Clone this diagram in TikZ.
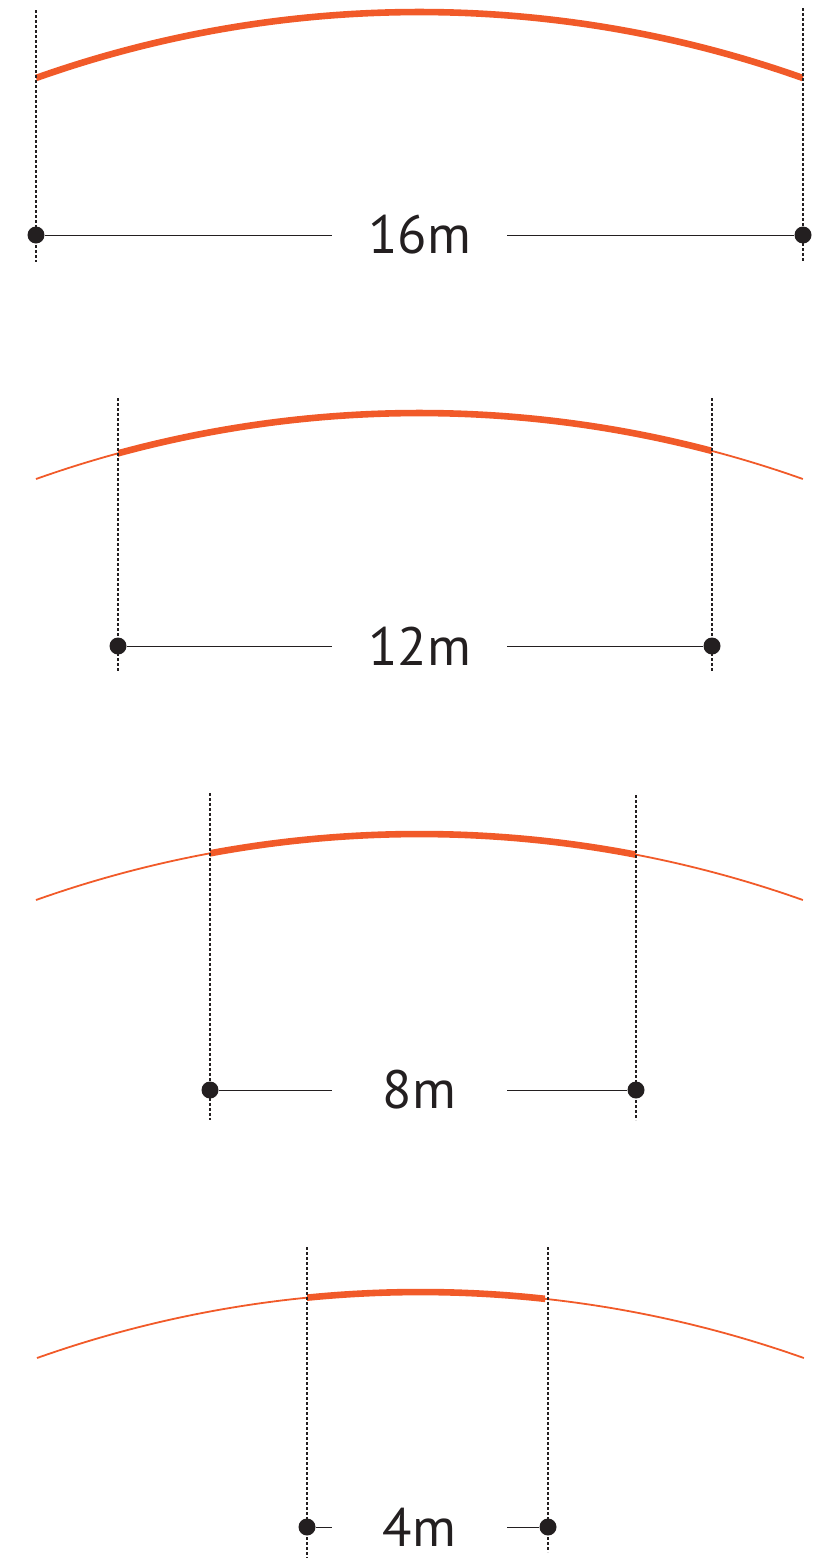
\documentclass[tikz,border=0pt]{standalone}
\usepackage{fontspec}
\setmainfont{PT Sans}
\usepackage{xcolor}
\usetikzlibrary{positioning}
\definecolor{roof}{HTML}{F15A29}
\definecolor{ink}{HTML}{231F20}

\begin{document}
\begin{tikzpicture}[
    x=0.5pt, y=0.5pt,
    beam/.style={draw=roof, line width=3.3pt},
    span/.style={draw=roof, line width=0.9pt},
    guide/.style={draw=ink, line width=0.75pt, dash pattern=on 1.6pt off 0.9pt},
    dimline/.style={draw=ink, line width=0.5pt},
    dot/.style={circle, fill=ink, inner sep=0pt, minimum size=8.5pt},
    size/.style={rectangle, inner sep=0pt, minimum width=87.5pt, minimum height=20pt, text=ink, font=\fontsize{27}{30}\selectfont}
]
    \useasboundingbox (0,0) rectangle (819,-1558);

    % 16m
    \draw[beam] (36,-78) arc[start angle=109.53, end angle=70.47, radius=1147];
    \coordinate (aTL) at (36,-10);   \coordinate (aBL) at (36,-262);
    \coordinate (aTR) at (803,-8);   \coordinate (aBR) at (803,-262);
    \draw[guide] (aTL) -- (aBL);
    \draw[guide] (aTR) -- (aBR);
    \node (aL) [dot] at (36,-235) {};
    \node (aR) [dot] at (803,-235) {};
    \node (aLab) [size] at (419.5,-235) {16m};
    \draw[dimline] (aL) -- (aLab);
    \draw[dimline] (aLab) -- (aR);

    % 12m
    \draw[span] (36,-479) arc[start angle=109.53, end angle=70.47, radius=1147];
    \begin{scope}
        \clip (118,-380) rectangle (712,-520);
        \draw[beam] (36,-479) arc[start angle=109.53, end angle=70.47, radius=1147];
    \end{scope}
    \coordinate (bTL) at (118,-398); \coordinate (bBL) at (118,-672);
    \coordinate (bTR) at (712,-398); \coordinate (bBR) at (712,-672);
    \draw[guide] (bTL) -- (bBL);
    \draw[guide] (bTR) -- (bBR);
    \node (bL) [dot] at (118,-646) {};
    \node (bR) [dot] at (712,-646) {};
    \node (bLab) [size] at (419.5,-646) {12m};
    \draw[dimline] (bL) -- (bLab);
    \draw[dimline] (bLab) -- (bR);

    % 8m
    \draw[span] (36,-900) arc[start angle=109.53, end angle=70.47, radius=1147];
    \begin{scope}
        \clip (210,-800) rectangle (636,-940);
        \draw[beam] (36,-900) arc[start angle=109.53, end angle=70.47, radius=1147];
    \end{scope}
    \coordinate (cTL) at (210,-793); \coordinate (cBL) at (210,-1120);
    \coordinate (cTR) at (636,-795); \coordinate (cBR) at (636,-1120);
    \draw[guide] (cTL) -- (cBL);
    \draw[guide] (cTR) -- (cBR);
    \node (cL) [dot] at (210,-1090) {};
    \node (cR) [dot] at (636,-1090) {};
    \node (cLab) [size] at (419.5,-1090) {8m};
    \draw[dimline] (cL) -- (cLab);
    \draw[dimline] (cLab) -- (cR);

    % 4m
    \draw[span] (37,-1358) arc[start angle=109.53, end angle=70.47, radius=1147];
    \begin{scope}
        \clip (307,-1260) rectangle (545,-1400);
        \draw[beam] (37,-1358) arc[start angle=109.53, end angle=70.47, radius=1147];
    \end{scope}
    \coordinate (dTL) at (307,-1247); \coordinate (dBL) at (307,-1558);
    \coordinate (dTR) at (548,-1247); \coordinate (dBR) at (548,-1552);
    \draw[guide] (dTL) -- (dBL);
    \draw[guide] (dTR) -- (dBR);
    \node (dL) [dot] at (307,-1527) {};
    \node (dR) [dot] at (548,-1527) {};
    \node (dLab) [size] at (419.5,-1527) {4m};
    \draw[dimline] (dL) -- (dLab);
    \draw[dimline] (dLab) -- (dR);
\end{tikzpicture}
\end{document}
